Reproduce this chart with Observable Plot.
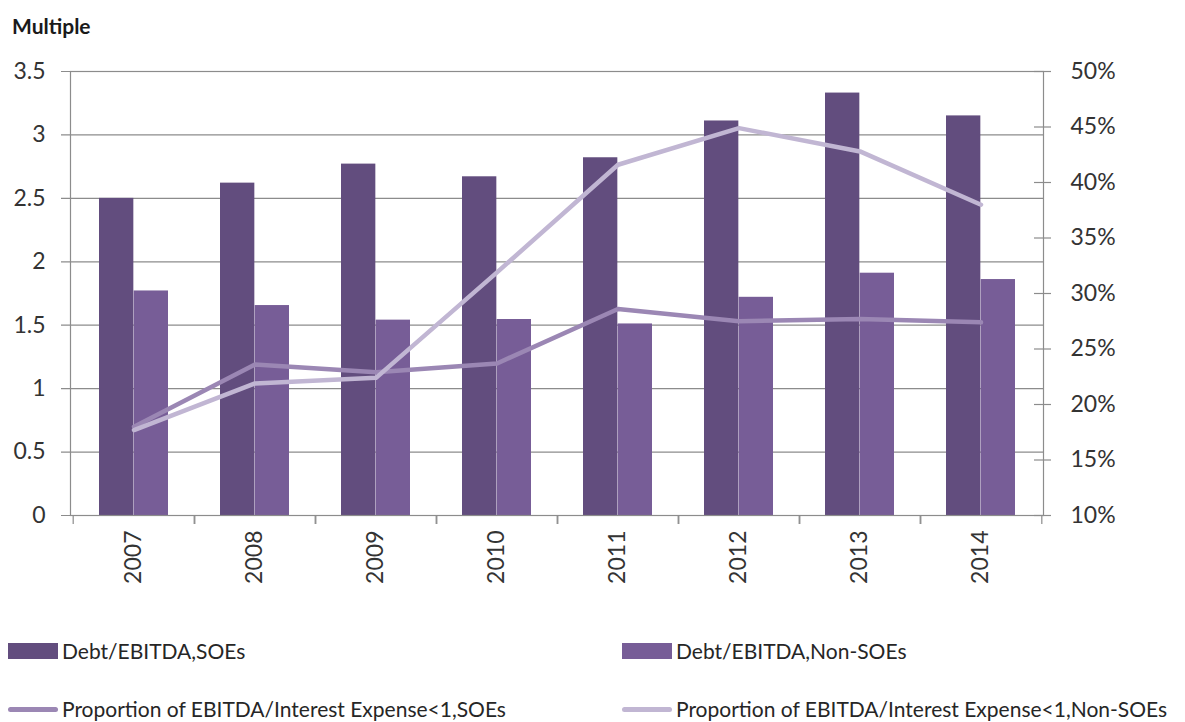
<!DOCTYPE html>
<html><head><meta charset="utf-8">
<script src="https://cdn.jsdelivr.net/npm/d3@7"></script>
<script src="https://cdn.jsdelivr.net/npm/@observablehq/plot@0.6"></script>
<style>
body{margin:0;background:#fff;font-family:Lato,"Open Sans",sans-serif;color:#262626;}
#wrap{position:relative;width:1185px;height:722px;overflow:hidden;}
#title{position:absolute;left:12px;top:13px;font-weight:bold;font-size:21px;color:#1a1a1a;}
#chart{position:absolute;left:0;top:0;}
.leg{position:absolute;font-size:21px;line-height:22px;white-space:nowrap;color:#262626;}
.sw{position:absolute;}
</style></head><body>
<div id="wrap">
<div id="chart"></div>
<div id="title">Multiple</div>
<div id="legend"></div>
</div>
<script>
const years = ["2007","2008","2009","2010","2011","2012","2013","2014"];
const soeDebt = [2.50, 2.62, 2.77, 2.67, 2.82, 3.11, 3.33, 3.15];
const nonSoeDebt = [1.77, 1.655, 1.54, 1.545, 1.51, 1.72, 1.91, 1.86];
const soeShare = [18.0, 23.6, 22.9, 23.7, 28.6, 27.5, 27.7, 27.4];
const nonSoeShare = [17.7, 21.9, 22.4, 31.9, 41.6, 44.9, 42.8, 38.0];
const leftTicks = [0, 0.5, 1, 1.5, 2, 2.5, 3, 3.5];
const rightTicks = [10, 15, 20, 25, 30, 35, 40, 45, 50];
const seriesNames = ["Debt/EBITDA,SOEs", "Debt/EBITDA,Non-SOEs",
  "Proportion of EBITDA/Interest Expense<1,SOEs", "Proportion of EBITDA/Interest Expense<1,Non-SOEs"];
const colors = ["#624d7e", "#775d97", "#9b87b4", "#c1b6d3"];

const leftMax = 3.5, rightMin = 10, rightMax = 50;
const toLeft = p => (p - rightMin) / (rightMax - rightMin) * leftMax;
const toRight = v => v / leftMax * (rightMax - rightMin) + rightMin;

const W = 1185, H = 600, mL = 70, mR = 142, mT = 71, mB = 85;
const plotW = W - mL - mR, plotH = H - mT - mB;
const padIn = 0.43;
const step = plotW / years.length;
const bw = step * (1 - padIn);
const grid = "#8c8c8c";

const chart = Plot.plot({
  width: W, height: H,
  marginLeft: mL, marginRight: mR, marginTop: mT, marginBottom: mB,
  style: {fontFamily: "Lato, 'Open Sans', sans-serif", color: "#333", background: "#fff"},
  x: {type: "band", domain: years, paddingInner: padIn, paddingOuter: padIn / 2, label: null, axis: null},
  y: {domain: [0, leftMax], label: null, axis: null},
  marks: [
    Plot.ruleY(leftTicks, {y: d => d, stroke: grid, strokeWidth: 1.2, insetLeft: -9}),
    Plot.ruleY(rightTicks.map(toLeft), {y: d => d, stroke: grid, strokeWidth: 1.2, insetLeft: plotW - 9, insetRight: -8}),
    Plot.ruleX(years, {x: d => d, dx: -step / 2, stroke: grid, strokeWidth: 1.2, insetTop: plotH, insetBottom: -9}),
    Plot.ruleX(years, {x: d => d, dx: step / 2, stroke: grid, strokeWidth: 1.2, insetTop: plotH, insetBottom: -9}),
    Plot.barY(soeDebt, {x: years, y: d => d, fill: colors[0], insetRight: bw / 2}),
    Plot.barY(nonSoeDebt, {x: years, y: d => d, fill: colors[1], insetLeft: bw / 2}),
    Plot.line(soeShare.map(toLeft), {x: years, y: d => d, stroke: colors[2], strokeWidth: 4.5}),
    Plot.line(nonSoeShare.map(toLeft), {x: years, y: d => d, stroke: colors[3], strokeWidth: 4.5}),
    Plot.frame({stroke: grid, strokeWidth: 1.2}),
    Plot.axisY(leftTicks, {anchor: "left", tickSize: 0, tickPadding: 25, fontSize: 23, tickFormat: d => String(d)}),
    Plot.axisY(rightTicks.map(toLeft), {anchor: "right", tickSize: 0, tickPadding: 27, fontSize: 23, tickFormat: v => Math.round(toRight(v)) + "%"}),
    Plot.axisX({anchor: "bottom", tickSize: 0, tickPadding: 15, tickRotate: -90, fontSize: 23, label: null})
  ]
});
document.getElementById("chart").appendChild(chart);

const legend = document.getElementById("legend");
const items = [
  {name: seriesNames[0], color: colors[0], kind: "bar", x: 8, y: 651},
  {name: seriesNames[1], color: colors[1], kind: "bar", x: 622, y: 651},
  {name: seriesNames[2], color: colors[2], kind: "line", x: 8, y: 709},
  {name: seriesNames[3], color: colors[3], kind: "line", x: 622, y: 709}
];
for (const it of items) {
  const sw = document.createElement("div");
  sw.className = "sw";
  sw.style.left = it.x + "px";
  sw.style.width = "50px";
  sw.style.background = it.color;
  if (it.kind === "bar") { sw.style.top = (it.y - 8) + "px"; sw.style.height = "16px"; }
  else { sw.style.top = (it.y - 2.5) + "px"; sw.style.height = "5px"; sw.style.borderRadius = "3px"; }
  legend.appendChild(sw);
  const t = document.createElement("div");
  t.className = "leg";
  t.style.left = (it.x + 54) + "px";
  t.style.top = (it.y - 11) + "px";
  t.textContent = it.name;
  legend.appendChild(t);
}
</script>
</body></html>
